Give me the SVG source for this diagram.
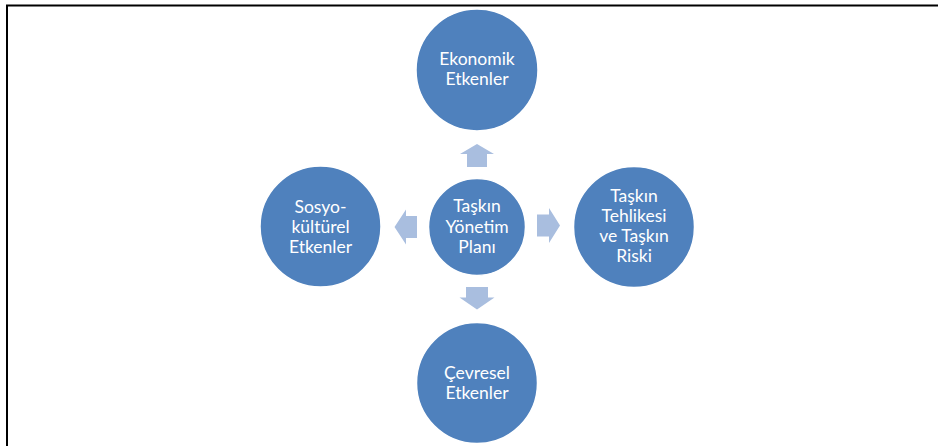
<svg xmlns="http://www.w3.org/2000/svg" width="938" height="446" viewBox="0 0 938 446">
<style>
.n{fill:#4F81BD;stroke:#ffffff;stroke-width:1.5}
.t{fill:#ffffff;font-family:Lato,"Open Sans","Liberation Sans",sans-serif;font-size:17.5px;text-anchor:middle}
.a{fill:#A9BEDF}
</style>
<rect width="938" height="446" fill="#ffffff"/>
<path d="M7 446 V5.5 H938" fill="none" stroke="#000000" stroke-width="2"/>
<g id="connectors">
<path class="a" d="M477 144 L494 154 L487 154 L487 167 L467 167 L467 154 L460 154 Z"/>
<path class="a" d="M560 225.5 L549 208 L549 214.5 L537 214.5 L537 236.5 L549 236.5 L549 243 Z"/>
<path class="a" d="M394.5 227 L406 209.5 L406 216 L417 216 L417 238 L406 238 L406 244.5 Z"/>
<path class="a" d="M477 309.5 L494.5 297.5 L488 297.5 L488 287 L466 287 L466 297.5 L459.5 297.5 Z"/>
</g>
<g id="center">
<circle class="n" cx="477" cy="227" r="48.5"/>
<text class="t" x="477" y="212">Taşkın</text>
<text class="t" x="477" y="232.5">Yönetim</text>
<text class="t" x="477" y="252.5">Planı</text>
</g>
<g id="ekonomik">
<circle class="n" cx="477" cy="70" r="61"/>
<text class="t" x="477" y="65">Ekonomik</text>
<text class="t" x="477" y="85">Etkenler</text>
</g>
<g id="tehlike">
<circle class="n" cx="634" cy="227" r="60.5"/>
<text class="t" x="634" y="201.5">Taşkın</text>
<text class="t" x="634" y="221.5">Tehlikesi</text>
<text class="t" x="634" y="241.5">ve Taşkın</text>
<text class="t" x="634" y="261.5">Riski</text>
</g>
<g id="sosyo">
<circle class="n" cx="320.5" cy="226.5" r="60.5"/>
<text class="t" x="320.5" y="213.3">Sosyo-</text>
<text class="t" x="320.5" y="233">kültürel</text>
<text class="t" x="320.5" y="252.7">Etkenler</text>
</g>
<g id="cevresel">
<circle class="n" cx="477" cy="383" r="60.5"/>
<text class="t" x="477" y="379">Çevresel</text>
<text class="t" x="477" y="399">Etkenler</text>
</g>
</svg>
